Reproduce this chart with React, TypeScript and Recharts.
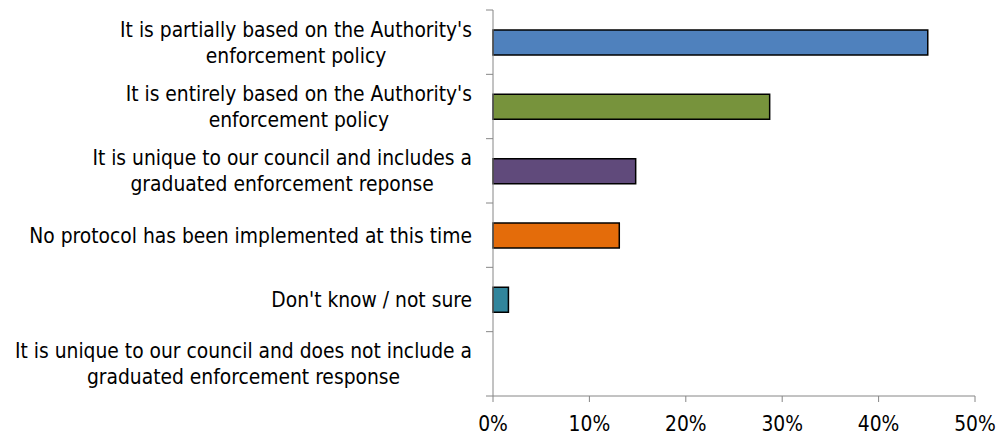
import React from 'react';
import { BarChart, Bar, XAxis, YAxis, Cell } from 'recharts';

const categories = [
  "It is partially based on the Authority's\nenforcement policy",
  "It is entirely based on the Authority's\nenforcement policy",
  'It is unique to our council and includes a\ngraduated enforcement reponse',
  'No protocol has been implemented at this time',
  "Don't know / not sure",
  'It is unique to our council and does not include a\ngraduated enforcement response',
];
const values = [45.1, 28.7, 14.8, 13.1, 1.6, 0];
const colors = ['#4F81BD', '#77933C', '#604A7B', '#E46C0A', '#31859C', '#4BACC6'];
const xTicks = [0, 10, 20, 30, 40, 50];

const data = categories.map((c, i) => ({ name: c, value: values[i] }));

const FONT = "'DejaVu Sans Condensed', 'DejaVu Sans', sans-serif";
const FONT_SIZE = 20.8;
const AXIS_COLOR = '#868686';
const Y_TICK_SIZE = 7;
const Y_TICK_MARGIN = 14;
const LINE_H = 26;

let ctx: CanvasRenderingContext2D | null = null;
const measure = (s: string) => {
  if (!ctx) {
    const c = document.createElement('canvas');
    ctx = c.getContext('2d');
  }
  if (!ctx) return s.length * 9;
  ctx.font = `${FONT_SIZE}px 'DejaVu Sans Condensed', 'DejaVu Sans', sans-serif`;
  return ctx.measureText(s).width;
};

const YTick = (props: any) => {
  const { x, y, payload, index } = props;
  const lines = String(payload.value).split('\n');
  const half = payload.offset || 0;
  const axisX = x + Y_TICK_SIZE + Y_TICK_MARGIN;
  const maxW = Math.max(...lines.map(measure));
  const cx = x - maxW / 2;
  const startY = y - ((lines.length - 1) * LINE_H) / 2;
  return (
    <g>
      <line x1={axisX - Y_TICK_SIZE} x2={axisX} y1={y - half} y2={y - half} stroke={AXIS_COLOR} strokeWidth={1} />
      {index === categories.length - 1 && (
        <line x1={axisX - Y_TICK_SIZE} x2={axisX} y1={y + half} y2={y + half} stroke={AXIS_COLOR} strokeWidth={1} />
      )}
      <text textAnchor="middle" fontFamily={FONT} fontSize={FONT_SIZE} fill="#000">
        {lines.map((l, i) => (
          <tspan key={i} x={cx} y={startY + i * LINE_H + 7.5}>
            {l}
          </tspan>
        ))}
      </text>
    </g>
  );
};

const XTick = (props: any) => {
  const { x, y, payload } = props;
  return (
    <text x={x} y={y} dy={29} textAnchor="middle" fontFamily={FONT} fontSize={FONT_SIZE} fill="#000">
      {`${payload.value}%`}
    </text>
  );
};

export default function App() {
  return (
    <div style={{ position: 'absolute', left: 0, top: 0, width: 997, height: 437, background: '#fff' }}>
      <BarChart
        width={997}
        height={437}
        data={data}
        layout="vertical"
        margin={{ top: 10, right: 22, bottom: 0, left: 0 }}
      >
        <XAxis
          type="number"
          domain={[0, 50]}
          ticks={xTicks}
          interval={0}
          height={41}
          tickSize={6}
          tickMargin={0}
          axisLine={{ stroke: AXIS_COLOR }}
          tickLine={{ stroke: AXIS_COLOR }}
          tick={<XTick />}
        />
        <YAxis
          type="category"
          dataKey="name"
          width={493}
          interval={0}
          tickSize={Y_TICK_SIZE}
          tickMargin={Y_TICK_MARGIN}
          tickLine={false}
          axisLine={{ stroke: AXIS_COLOR }}
          tick={<YTick />}
        />
        <Bar dataKey="value" barSize={25} stroke="#000" strokeWidth={1.5} isAnimationActive={false}>
          {data.map((d, i) => (
            <Cell key={i} fill={colors[i]} />
          ))}
        </Bar>
      </BarChart>
    </div>
  );
}
